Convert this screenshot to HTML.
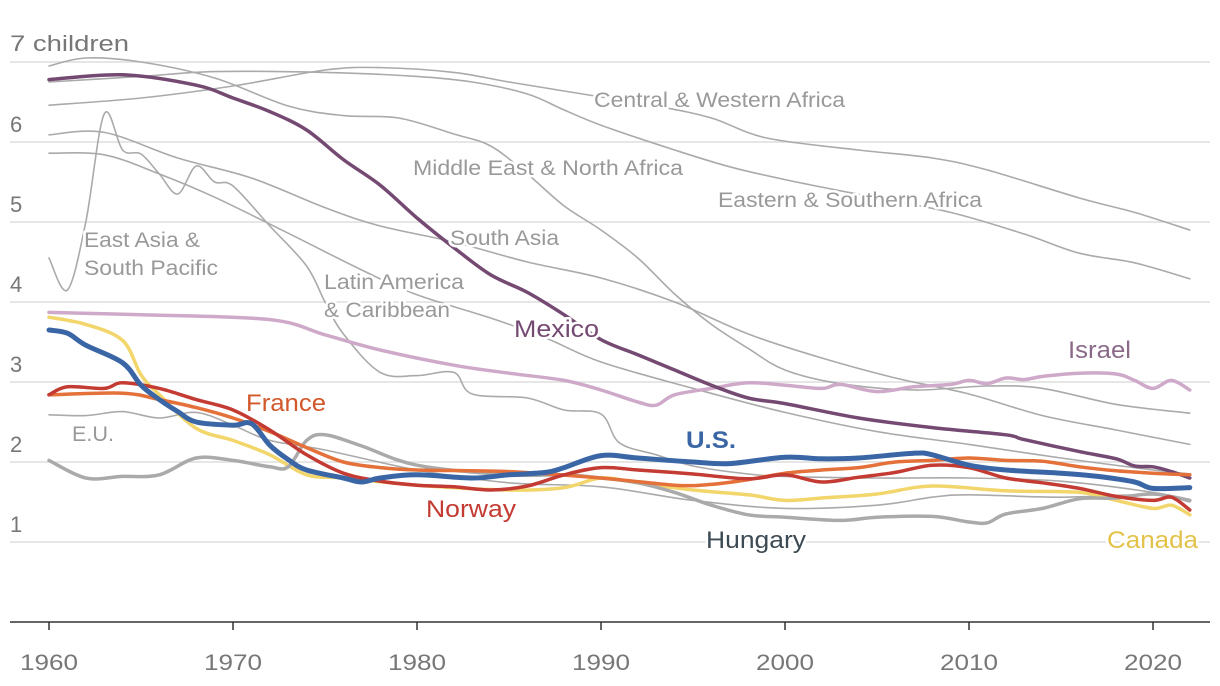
<!DOCTYPE html>
<html><head><meta charset="utf-8">
<style>
html,body{margin:0;padding:0;background:#fff;}
svg{display:block;font-family:"Liberation Sans",sans-serif;}
.tick{fill:#777;font-size:22px;}
.rl{fill:#999;font-size:21px;stroke:#fff;stroke-width:5px;paint-order:stroke;stroke-linejoin:round;}
.cl{font-size:24px;stroke:#fff;stroke-width:5px;paint-order:stroke;stroke-linejoin:round;}
</style></head>
<body>
<svg id="chart" width="1220" height="686" viewBox="0 0 1220 686">
<g id="grid"></g>
<g id="lines"></g>
<g id="labels">
<text class="tick" x="10" y="51" textLength="119" lengthAdjust="spacingAndGlyphs">7 children</text>
<text class="rl" x="594" y="107" textLength="251" lengthAdjust="spacingAndGlyphs">Central &amp; Western Africa</text>
<text class="rl" x="413" y="175" textLength="270" lengthAdjust="spacingAndGlyphs">Middle East &amp; North Africa</text>
<text class="rl" x="718" y="207" textLength="264" lengthAdjust="spacingAndGlyphs">Eastern &amp; Southern Africa</text>
<text class="rl" x="450" y="245" textLength="109" lengthAdjust="spacingAndGlyphs">South Asia</text>
<text class="rl" x="84" y="247" textLength="116" lengthAdjust="spacingAndGlyphs">East Asia &amp;</text>
<text class="rl" x="84" y="275" textLength="134" lengthAdjust="spacingAndGlyphs">South Pacific</text>
<text class="rl" x="324" y="289" textLength="140" lengthAdjust="spacingAndGlyphs">Latin America</text>
<text class="rl" x="324" y="317" textLength="126" lengthAdjust="spacingAndGlyphs">&amp; Caribbean</text>
<text class="rl" x="72" y="441" textLength="42" lengthAdjust="spacingAndGlyphs">E.U.</text>
<text class="cl" x="514" y="337" fill="#744a72" textLength="85" lengthAdjust="spacingAndGlyphs">Mexico</text>
<text class="cl" x="1068" y="358" fill="#8a6a88" textLength="63" lengthAdjust="spacingAndGlyphs">Israel</text>
<text class="cl" x="246" y="411" fill="#d2582b" textLength="80" lengthAdjust="spacingAndGlyphs">France</text>
<text class="cl" x="426" y="517" fill="#c33b32" textLength="90" lengthAdjust="spacingAndGlyphs">Norway</text>
<text class="cl" x="686" y="448" fill="#3a66a6" font-weight="bold" textLength="50" lengthAdjust="spacingAndGlyphs">U.S.</text>
<text class="cl" x="706" y="548" fill="#3d4b55" textLength="100" lengthAdjust="spacingAndGlyphs">Hungary</text>
<text class="cl" x="1107" y="548" fill="#e3c24a" textLength="91" lengthAdjust="spacingAndGlyphs">Canada</text>
</g>
</svg>
<script>
const yTicks = [1,2,3,4,5,6];
const xTicks = [1960,1970,1980,1990,2000,2010,2020];

const cwaYears = [1960,1965,1970,1975,1978,1982,1985,1989,1993,1996,1999,2004,2008,2011,2016,2019,2022];
const cwaVals  = [6.46,6.55,6.7,6.9,6.93,6.87,6.75,6.6,6.45,6.3,6.05,5.9,5.8,5.65,5.3,5.12,4.9];
const esaYears = [1960,1965,1969,1975,1980,1983,1986,1988,1990,1994,1997,2000,2005,2009,2013,2016,2019,2022];
const esaVals  = [6.75,6.82,6.88,6.87,6.82,6.75,6.6,6.4,6.21,5.9,5.69,5.53,5.3,5.12,4.85,4.61,4.49,4.29];
const menaYears = [1960,1962,1965,1969,1973,1976,1979,1982,1984,1986,1988,1990,1992,1994,1996,1998,2000,2003,2007,2011,2014,2018,2022];
const menaVals  = [6.95,7.05,7.0,6.8,6.45,6.33,6.3,6.1,5.95,5.6,5.2,4.9,4.55,4.1,3.72,3.42,3.15,2.98,2.9,2.95,2.92,2.72,2.61];
const saYears = [1960,1963,1967,1971,1975,1978,1982,1986,1990,1994,1998,2002,2006,2010,2014,2018,2022];
const saVals  = [6.09,6.12,5.8,5.55,5.18,4.95,4.75,4.5,4.3,4.0,3.6,3.3,3.05,2.85,2.58,2.4,2.22];
const laYears = [1960,1963,1966,1969,1973,1977,1980,1984,1987,1990,1995,2000,2005,2010,2015,2020,2022];
const laVals  = [5.86,5.84,5.6,5.31,4.86,4.4,4.09,3.8,3.55,3.25,2.92,2.62,2.38,2.22,2.05,1.9,1.85];
const eaYears = [1960,1961,1962,1963,1964,1965,1966,1967,1968,1969,1970,1972,1974,1975,1976,1978,1980,1982,1983,1986,1988,1990,1991,1993,1995,1998,2000,2005,2010,2015,2020,2022];
const eaVals  = [4.55,4.15,5.0,6.35,5.9,5.85,5.6,5.35,5.7,5.5,5.45,4.95,4.45,4.0,3.6,3.12,3.08,3.12,2.85,2.8,2.65,2.6,2.24,2.09,1.95,1.85,1.82,1.8,1.8,1.76,1.62,1.52];
const euYears = [1960,1962,1964,1966,1968,1970,1972,1975,1980,1985,1990,1995,2000,2005,2008,2010,2015,2020,2022];
const euVals  = [2.59,2.58,2.63,2.55,2.62,2.46,2.27,2.15,1.9,1.74,1.69,1.52,1.42,1.46,1.56,1.59,1.56,1.59,1.5];

const israelYears = [1960,1965,1972,1975,1978,1982,1985,1988,1990,1992,1993,1994,1996,1998,2000,2002,2003,2005,2007,2009,2010,2011,2012,2013,2014,2016,2018,2019,2020,2021,2022];
const israelVals  = [3.87,3.84,3.78,3.59,3.4,3.21,3.11,3.02,2.9,2.75,2.71,2.84,2.92,2.99,2.96,2.92,2.97,2.88,2.94,2.97,3.02,2.98,3.05,3.03,3.07,3.11,3.1,3.02,2.92,3.02,2.9];
const mexicoYears = [1960,1964,1968,1970,1972,1974,1976,1978,1980,1982,1984,1986,1988,1990,1992,1994,1996,1998,2000,2004,2008,2012,2013,2016,2018,2019,2020,2021,2022];
const mexicoVals  = [6.78,6.84,6.71,6.55,6.38,6.15,5.78,5.46,5.05,4.68,4.34,4.12,3.84,3.53,3.34,3.15,2.96,2.8,2.73,2.55,2.43,2.34,2.28,2.13,2.04,1.95,1.94,1.88,1.8];
const canadaYears = [1960,1962,1964,1965,1966,1968,1970,1972,1974,1976,1980,1985,1988,1990,1992,1995,1998,2000,2002,2005,2008,2012,2016,2018,2020,2021,2022];
const canadaVals  = [3.81,3.72,3.52,3.09,2.84,2.42,2.27,2.09,1.84,1.8,1.71,1.65,1.68,1.8,1.74,1.65,1.59,1.52,1.55,1.6,1.7,1.64,1.62,1.52,1.42,1.46,1.34];
const hungaryYears = [1960,1962,1964,1966,1968,1970,1972,1973,1974,1975,1977,1980,1985,1988,1990,1992,1994,1996,1998,2000,2003,2005,2008,2010,2011,2012,2014,2016,2018,2020,2022];
const hungaryVals  = [2.02,1.8,1.82,1.84,2.05,2.02,1.94,1.94,2.27,2.34,2.2,1.96,1.84,1.84,1.8,1.74,1.62,1.46,1.34,1.31,1.27,1.31,1.32,1.25,1.24,1.35,1.42,1.54,1.55,1.6,1.52];
const franceYears = [1960,1964,1966,1968,1970,1972,1974,1976,1978,1980,1985,1990,1994,1996,1998,2000,2002,2004,2006,2008,2010,2012,2014,2016,2018,2020,2022];
const franceVals  = [2.84,2.86,2.78,2.68,2.55,2.38,2.18,2.0,1.93,1.9,1.88,1.8,1.71,1.72,1.78,1.86,1.9,1.93,2.0,2.02,2.05,2.02,2.01,1.94,1.89,1.86,1.84];
const norwayYears = [1960,1961,1963,1964,1966,1968,1970,1972,1974,1976,1978,1980,1982,1984,1986,1988,1990,1992,1995,1998,2000,2002,2004,2006,2008,2010,2012,2014,2016,2018,2020,2021,2022];
const norwayVals  = [2.84,2.94,2.92,2.99,2.92,2.78,2.65,2.4,2.09,1.86,1.76,1.71,1.69,1.65,1.7,1.84,1.93,1.9,1.85,1.79,1.84,1.75,1.81,1.87,1.96,1.93,1.8,1.74,1.67,1.57,1.52,1.56,1.4];
const usYears = [1960,1961,1962,1964,1965,1966,1967,1968,1970,1971,1972,1973,1974,1976,1977,1978,1980,1983,1985,1987,1988,1990,1992,1995,1997,2000,2002,2004,2007,2008,2010,2012,2015,2017,2019,2020,2022];
const usVals  = [3.65,3.61,3.46,3.24,2.96,2.78,2.63,2.5,2.46,2.48,2.21,2.03,1.9,1.8,1.75,1.8,1.84,1.8,1.84,1.87,1.93,2.08,2.05,2.0,1.98,2.06,2.04,2.05,2.11,2.09,1.96,1.9,1.86,1.82,1.75,1.67,1.68];

const X = yr => 49 + (yr - 1960) * (1153 - 49) / 60;
const Y = v => 62 + (7 - v) * 80;
const NS = "http://www.w3.org/2000/svg";
const grid = document.getElementById('grid');
const linesG = document.getElementById('lines');
const labelsG = document.getElementById('labels');

[1,2,3,4,5,6,7].forEach(v => {
  const l = document.createElementNS(NS, 'line');
  l.setAttribute('x1', 10); l.setAttribute('x2', 1210);
  l.setAttribute('y1', Y(v)); l.setAttribute('y2', Y(v));
  l.setAttribute('stroke', '#dedede'); l.setAttribute('stroke-width', 1.5);
  
  
  grid.appendChild(l);
});
yTicks.forEach(v => {
  const t = document.createElementNS(NS, 'text');
  t.setAttribute('x', 10); t.setAttribute('y', Y(v) - 10);
  t.setAttribute('class', 'tick'); t.textContent = v;
  
  
  grid.appendChild(t);
});
const ax = document.createElementNS(NS, 'line');
ax.setAttribute('x1', 10); ax.setAttribute('x2', 1210);
ax.setAttribute('y1', Y(0)); ax.setAttribute('y2', Y(0));
ax.setAttribute('stroke', '#333'); ax.setAttribute('stroke-width', 1.5);


grid.appendChild(ax);
xTicks.forEach(yr => {
  const tk = document.createElementNS(NS, 'line');
  tk.setAttribute('x1', X(yr)); tk.setAttribute('x2', X(yr));
  tk.setAttribute('y1', Y(0)); tk.setAttribute('y2', Y(0) + 8);
  tk.setAttribute('stroke', '#333'); tk.setAttribute('stroke-width', 1.5);
  
  
  grid.appendChild(tk);
  const t = document.createElementNS(NS, 'text');
  t.setAttribute('x', X(yr)); t.setAttribute('y', 670);
  t.setAttribute('text-anchor', 'middle'); t.setAttribute('class', 'tick');
  t.setAttribute('textLength', 58); t.setAttribute('lengthAdjust', 'spacingAndGlyphs');
  t.textContent = yr;
  
  
  grid.appendChild(t);
});

function pathD(years, vals) {
  const p = years.map((yr, i) => [X(yr), Y(vals[i])]);
  let d = 'M' + p[0][0].toFixed(1) + ',' + p[0][1].toFixed(1);
  for (let i = 0; i < p.length - 1; i++) {
    const p0 = p[Math.max(0, i - 1)], p1 = p[i], p2 = p[i + 1], p3 = p[Math.min(p.length - 1, i + 2)];
    const c1x = p1[0] + (p2[0] - p0[0]) / 6, c1y = p1[1] + (p2[1] - p0[1]) / 6;
    const c2x = p2[0] - (p3[0] - p1[0]) / 6, c2y = p2[1] - (p3[1] - p1[1]) / 6;
    d += 'C' + c1x.toFixed(1) + ',' + c1y.toFixed(1) + ' ' + c2x.toFixed(1) + ',' + c2y.toFixed(1) + ' ' + p2[0].toFixed(1) + ',' + p2[1].toFixed(1);
  }
  return d;
}
function addLine(years, vals, color, width, name) {
  const p = document.createElementNS(NS, 'path');
  p.setAttribute('d', pathD(years, vals));
  p.setAttribute('fill', 'none'); p.setAttribute('stroke', color);
  p.setAttribute('stroke-width', width);
  p.setAttribute('stroke-linejoin', 'round'); p.setAttribute('stroke-linecap', 'round');
  
  
  linesG.appendChild(p);
}
addLine(cwaYears, cwaVals, '#aaa', 1.6, 'line-central-western-africa');
addLine(esaYears, esaVals, '#aaa', 1.6, 'line-eastern-southern-africa');
addLine(menaYears, menaVals, '#aaa', 1.6, 'line-middle-east-north-africa');
addLine(saYears, saVals, '#aaa', 1.6, 'line-south-asia');
addLine(laYears, laVals, '#aaa', 1.6, 'line-latin-america');
addLine(eaYears, eaVals, '#aaa', 1.6, 'line-east-asia');
addLine(euYears, euVals, '#aaa', 1.6, 'line-eu');
addLine(israelYears, israelVals, '#cfa9c9', 3.5, 'line-israel');
addLine(mexicoYears, mexicoVals, '#744a72', 3.5, 'line-mexico');
addLine(canadaYears, canadaVals, '#f2d66b', 3.5, 'line-canada');
addLine(hungaryYears, hungaryVals, '#aaaaaa', 3.5, 'line-hungary');
addLine(franceYears, franceVals, '#e4703a', 3.5, 'line-france');
addLine(norwayYears, norwayVals, '#c33b32', 3.5, 'line-norway');
addLine(usYears, usVals, '#3a66a6', 5, 'line-us');
document.getElementById('chart').appendChild(labelsG);
</script>
</body></html>
